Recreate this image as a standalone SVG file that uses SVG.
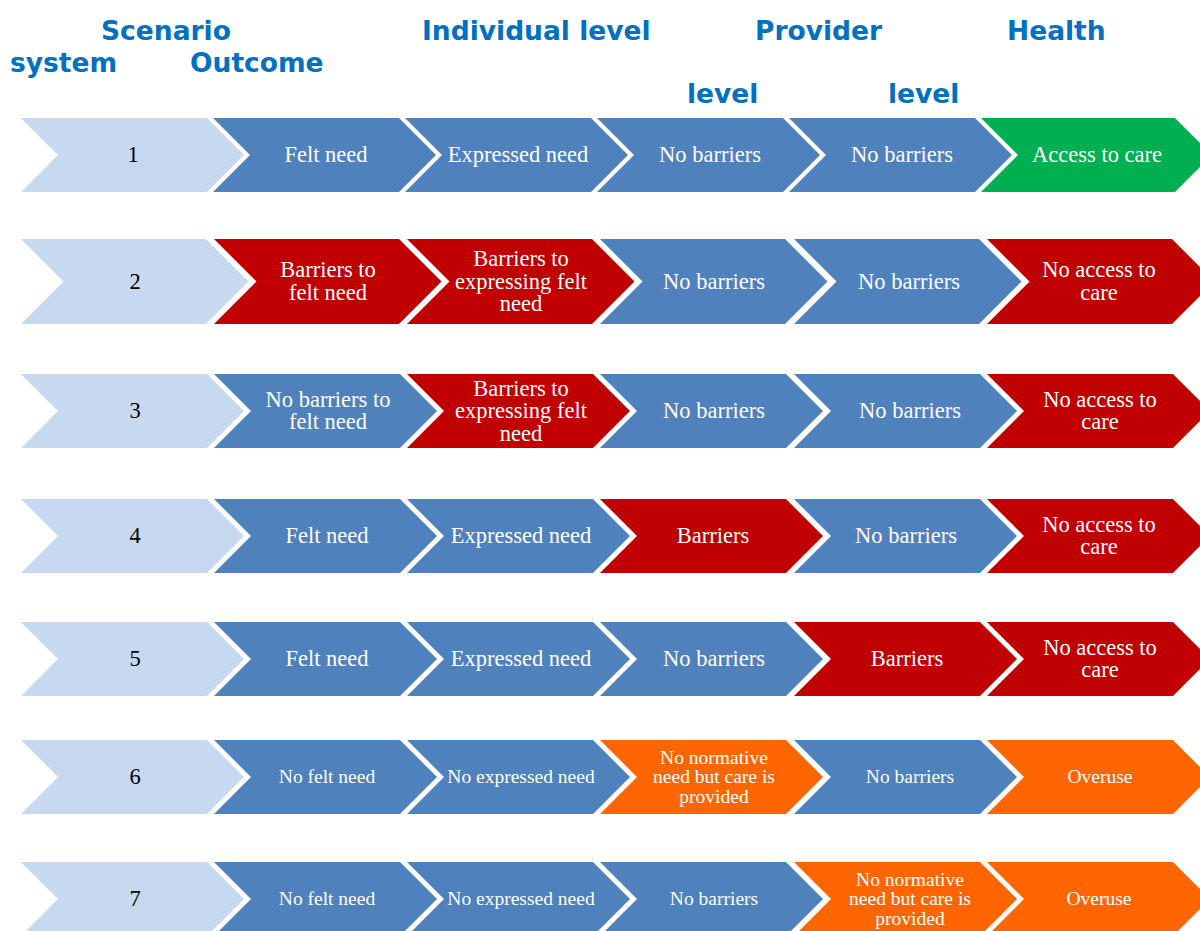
<svg xmlns="http://www.w3.org/2000/svg" xmlns:xlink="http://www.w3.org/1999/xlink" width="1200" height="931" viewBox="0 0 1200 931">
  <style>
    .hdr { font-family: "DejaVu Sans", Verdana, sans-serif; font-weight: bold; font-size: 26.5px; fill: #0070C0; }
    .lbl { font-family: "Liberation Serif", "Times New Roman", serif; font-size: 22.5px; fill: #FFFFFF; text-anchor: middle; }
    .sm { font-family: "Liberation Serif", "Times New Roman", serif; font-size: 19.5px; fill: #FFFFFF; text-anchor: middle; }
    .num { font-family: "Liberation Serif", "Times New Roman", serif; font-size: 22.5px; fill: #000000; text-anchor: middle; }
    .light { fill: #C6D9F1; }
    .blue { fill: #4F81BD; }
    .red { fill: #C00000; }
    .green { fill: #00B050; }
    .orange { fill: #FF6600; }
  </style>
  <defs>
    <!-- chevron, 74 px high -->
    <polygon id="chev" points="0,0 186,0 223,37 186,74 0,74 37,37"/>
    <!-- chevron, 85 px high -->
    <polygon id="chevTall" points="0,0 185,0 227.5,42.5 185,85 0,85 42.5,42.5"/>
  </defs>

  <rect width="1200" height="931" fill="#FFFFFF"/>

  <!-- column headings -->
  <g id="headings">
    <text class="hdr" x="101" y="40">Scenario</text>
    <text class="hdr" x="10" y="72">system</text>
    <text class="hdr" x="190" y="72">Outcome</text>
    <text class="hdr" x="422" y="40">Individual level</text>
    <text class="hdr" x="755" y="40">Provider</text>
    <text class="hdr" x="1007" y="40">Health</text>
    <text class="hdr" x="687" y="103">level</text>
    <text class="hdr" x="888" y="103">level</text>
  </g>

  <g id="connectors"/>

  <!-- scenario 1 -->
  <g id="s1-scenario"><use xlink:href="#chev" x="21" y="118" class="light"/><text class="num" x="133" y="162">1</text></g>
  <g id="s1-felt"><use xlink:href="#chev" x="213" y="118" class="blue"/><text class="lbl" x="326" y="162">Felt need</text></g>
  <g id="s1-expressed"><use xlink:href="#chev" x="405" y="118" class="blue"/><text class="lbl" x="518" y="162">Expressed need</text></g>
  <g id="s1-individual"><use xlink:href="#chev" x="597" y="118" class="blue"/><text class="lbl" x="710" y="162">No barriers</text></g>
  <g id="s1-provider"><use xlink:href="#chev" x="789" y="118" class="blue"/><text class="lbl" x="902" y="162">No barriers</text></g>
  <g id="s1-outcome"><polygon class="green" points="981,118 1175,118 1212,155 1175,192 981,192 1018,155"/><text class="lbl" x="1097" y="162">Access to care</text></g>

  <!-- scenario 2 -->
  <g id="s2-scenario"><use xlink:href="#chevTall" x="21" y="239" class="light"/><text class="num" x="135" y="288.5">2</text></g>
  <g id="s2-felt"><use xlink:href="#chevTall" x="214" y="239" class="red"/><text class="lbl" x="328" y="277.25">Barriers to</text><text class="lbl" x="328" y="299.75">felt need</text></g>
  <g id="s2-expressed"><use xlink:href="#chevTall" x="407" y="239" class="red"/><text class="lbl" x="521" y="266">Barriers to</text><text class="lbl" x="521" y="288.5">expressing felt</text><text class="lbl" x="521" y="311">need</text></g>
  <g id="s2-individual"><use xlink:href="#chevTall" x="600" y="239" class="blue"/><text class="lbl" x="714" y="288.5">No barriers</text></g>
  <g id="s2-provider"><use xlink:href="#chevTall" x="794" y="239" class="blue"/><text class="lbl" x="909" y="288.5">No barriers</text></g>
  <g id="s2-outcome"><use xlink:href="#chevTall" x="987" y="239" class="red"/><text class="lbl" x="1099" y="277.25">No access to</text><text class="lbl" x="1099" y="299.75">care</text></g>

  <!-- scenario 3 -->
  <g id="s3-scenario"><use xlink:href="#chev" x="21" y="374" class="light"/><text class="num" x="135" y="418">3</text></g>
  <g id="s3-felt"><use xlink:href="#chev" x="214" y="374" class="blue"/><text class="lbl" x="328" y="406.75">No barriers to</text><text class="lbl" x="328" y="429.25">felt need</text></g>
  <g id="s3-expressed"><use xlink:href="#chev" x="407" y="374" class="red"/><text class="lbl" x="521" y="395.5">Barriers to</text><text class="lbl" x="521" y="418">expressing felt</text><text class="lbl" x="521" y="440.5">need</text></g>
  <g id="s3-individual"><use xlink:href="#chev" x="600" y="374" class="blue"/><text class="lbl" x="714" y="418">No barriers</text></g>
  <g id="s3-provider"><use xlink:href="#chev" x="794" y="374" class="blue"/><text class="lbl" x="910" y="418">No barriers</text></g>
  <g id="s3-outcome"><use xlink:href="#chev" x="987" y="374" class="red"/><text class="lbl" x="1100" y="406.75">No access to</text><text class="lbl" x="1100" y="429.25">care</text></g>

  <!-- scenario 4 -->
  <g id="s4-scenario"><use xlink:href="#chev" x="21" y="499" class="light"/><text class="num" x="135" y="543">4</text></g>
  <g id="s4-felt"><use xlink:href="#chev" x="214" y="499" class="blue"/><text class="lbl" x="327" y="543">Felt need</text></g>
  <g id="s4-expressed"><use xlink:href="#chev" x="407" y="499" class="blue"/><text class="lbl" x="521" y="543">Expressed need</text></g>
  <g id="s4-individual"><use xlink:href="#chev" x="600" y="499" class="red"/><text class="lbl" x="713" y="543">Barriers</text></g>
  <g id="s4-provider"><use xlink:href="#chev" x="794" y="499" class="blue"/><text class="lbl" x="906" y="543">No barriers</text></g>
  <g id="s4-outcome"><use xlink:href="#chev" x="987" y="499" class="red"/><text class="lbl" x="1099" y="531.75">No access to</text><text class="lbl" x="1099" y="554.25">care</text></g>

  <!-- scenario 5 -->
  <g id="s5-scenario"><use xlink:href="#chev" x="21" y="622" class="light"/><text class="num" x="135" y="666">5</text></g>
  <g id="s5-felt"><use xlink:href="#chev" x="214" y="622" class="blue"/><text class="lbl" x="327" y="666">Felt need</text></g>
  <g id="s5-expressed"><use xlink:href="#chev" x="407" y="622" class="blue"/><text class="lbl" x="521" y="666">Expressed need</text></g>
  <g id="s5-individual"><use xlink:href="#chev" x="600" y="622" class="blue"/><text class="lbl" x="714" y="666">No barriers</text></g>
  <g id="s5-provider"><use xlink:href="#chev" x="794" y="622" class="red"/><text class="lbl" x="907" y="666">Barriers</text></g>
  <g id="s5-outcome"><use xlink:href="#chev" x="987" y="622" class="red"/><text class="lbl" x="1100" y="654.75">No access to</text><text class="lbl" x="1100" y="677.25">care</text></g>

  <!-- scenario 6 -->
  <g id="s6-scenario"><use xlink:href="#chev" x="21" y="740" class="light"/><text class="num" x="135" y="784">6</text></g>
  <g id="s6-felt"><use xlink:href="#chev" x="214" y="740" class="blue"/><text class="sm" x="327" y="783">No felt need</text></g>
  <g id="s6-expressed"><use xlink:href="#chev" x="407" y="740" class="blue"/><text class="sm" x="521" y="783">No expressed need</text></g>
  <g id="s6-individual"><use xlink:href="#chev" x="600" y="740" class="orange"/><text class="sm" x="714" y="763.5">No normative</text><text class="sm" x="714" y="783">need but care is</text><text class="sm" x="714" y="802.5">provided</text></g>
  <g id="s6-provider"><use xlink:href="#chev" x="794" y="740" class="blue"/><text class="sm" x="910" y="783">No barriers</text></g>
  <g id="s6-outcome"><use xlink:href="#chev" x="987" y="740" class="orange"/><text class="sm" x="1100" y="783">Overuse</text></g>

  <!-- scenario 7 -->
  <g id="s7-scenario"><use xlink:href="#chev" x="21" y="862" class="light"/><text class="num" x="135" y="906">7</text></g>
  <g id="s7-felt"><use xlink:href="#chev" x="214" y="862" class="blue"/><text class="sm" x="327" y="905">No felt need</text></g>
  <g id="s7-expressed"><use xlink:href="#chev" x="407" y="862" class="blue"/><text class="sm" x="521" y="905">No expressed need</text></g>
  <g id="s7-individual"><use xlink:href="#chev" x="600" y="862" class="blue"/><text class="sm" x="714" y="905">No barriers</text></g>
  <g id="s7-provider"><use xlink:href="#chev" x="794" y="862" class="orange"/><text class="sm" x="910" y="885.5">No normative</text><text class="sm" x="910" y="905">need but care is</text><text class="sm" x="910" y="924.5">provided</text></g>
  <g id="s7-outcome"><use xlink:href="#chev" x="987" y="862" class="orange"/><text class="sm" x="1099" y="905">Overuse</text></g>
</svg>
